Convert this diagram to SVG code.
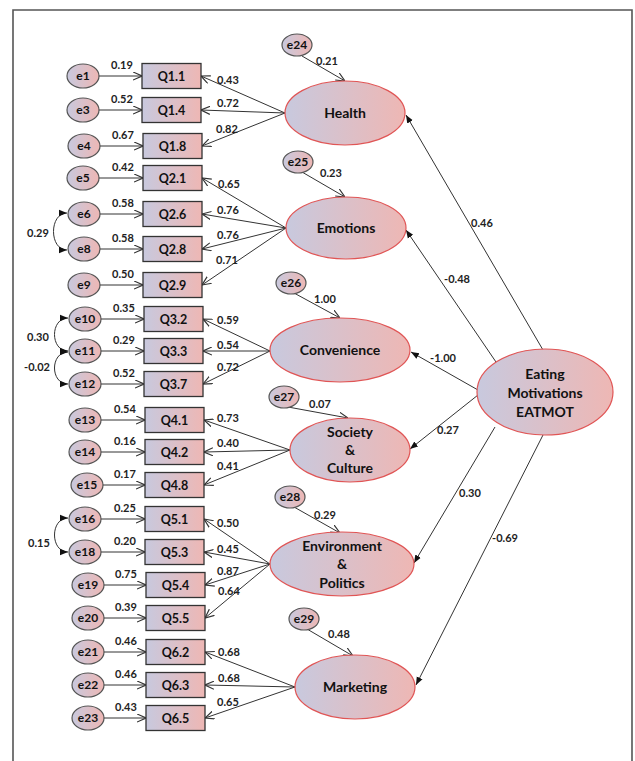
<svg xmlns="http://www.w3.org/2000/svg" width="635" height="761" viewBox="0 0 635 761">
<defs>
<linearGradient id="g" x1="0" y1="0" x2="1" y2="0">
<stop offset="0" stop-color="#c8c9de"/>
<stop offset="1" stop-color="#eeb7b4"/>
</linearGradient>
<marker id="open" viewBox="0 0 10 10" refX="10" refY="5" markerWidth="9" markerHeight="9" markerUnits="userSpaceOnUse" orient="auto"><path d="M0,0.5 L10,5 L0,9.5" fill="none" stroke="#333" stroke-width="1.3"/></marker>
<marker id="fill" viewBox="0 0 10 10" refX="10" refY="5" markerWidth="8" markerHeight="8" markerUnits="userSpaceOnUse" orient="auto-start-reverse"><path d="M0,1 L10,5 L0,9 Z" fill="#111"/></marker>
<style>
.err{fill:url(#g);stroke:#555;stroke-width:1.2}
.box{fill:url(#g);stroke:#333;stroke-width:1.3}
.lat{fill:url(#g);stroke:#e05555;stroke-width:1.2}
.t{font-family:Lato,"Liberation Sans",sans-serif;font-weight:bold;fill:#111;text-anchor:middle}
.te{font-size:12px}
.tb{font-size:12.5px}
.tl{font-size:14px}
.n{font-family:Lato,"Liberation Sans",sans-serif;font-weight:bold;font-size:11px;fill:#222;text-anchor:middle}
.a{stroke:#333;stroke-width:1;fill:none;marker-end:url(#open)}
.s{stroke:#333;stroke-width:1;fill:none;marker-end:url(#fill)}
.c{stroke:#333;stroke-width:1;fill:none;marker-start:url(#fill);marker-end:url(#fill)}
</style>
</defs>
<rect x="0" y="0" width="635" height="761" fill="#fff"/>
<path d="M13,770 L13,10 L632,10 L632,770" fill="none" stroke="#555" stroke-width="1.6"/>

<g id="connectors">
<!-- error to indicator -->
<path class="a" d="M99,76 L142,76"/>
<path class="a" d="M99,110 L142,110"/>
<path class="a" d="M100,146 L143,146"/>
<path class="a" d="M99,178 L143,178"/>
<path class="a" d="M100,214 L143,214"/>
<path class="a" d="M100,249 L143,249"/>
<path class="a" d="M100,285 L143,285"/>
<path class="a" d="M101,319 L144,319"/>
<path class="a" d="M101,351 L144,351"/>
<path class="a" d="M101,384 L144,384"/>
<path class="a" d="M101,420 L145,420"/>
<path class="a" d="M101,452 L145,452"/>
<path class="a" d="M103,485 L145,485"/>
<path class="a" d="M101,519 L145,519"/>
<path class="a" d="M101,552 L145,552"/>
<path class="a" d="M104,585 L146,585"/>
<path class="a" d="M104,618 L146,618"/>
<path class="a" d="M104,652 L146,652"/>
<path class="a" d="M104,685 L146,685"/>
<path class="a" d="M104,718 L146,718"/>
<!-- loadings -->
<path class="a" d="M285,113 L201,76"/>
<path class="a" d="M285,113 L201,110"/>
<path class="a" d="M285,113 L202,146"/>
<path class="a" d="M286,228 L202,178"/>
<path class="a" d="M286,228 L202,214"/>
<path class="a" d="M286,228 L202,249"/>
<path class="a" d="M286,228 L202,285"/>
<path class="a" d="M270,351 L203,319"/>
<path class="a" d="M270,351 L203,351"/>
<path class="a" d="M270,351 L203,384"/>
<path class="a" d="M290,450 L204,420"/>
<path class="a" d="M290,450 L204,452"/>
<path class="a" d="M290,450 L204,485"/>
<path class="a" d="M270,564 L204,519"/>
<path class="a" d="M270,564 L204,552"/>
<path class="a" d="M270,564 L205,585"/>
<path class="a" d="M270,564 L205,618"/>
<path class="a" d="M295,687 L205,652"/>
<path class="a" d="M295,687 L205,685"/>
<path class="a" d="M295,687 L205,718"/>
<!-- disturbances -->
<path class="a" d="M302,56 L345,81"/>
<path class="a" d="M302,172 L345,197"/>
<path class="a" d="M294,293 L340,318"/>
<path class="a" d="M288,407 L348,418"/>
<path class="a" d="M294,507 L340,533"/>
<path class="a" d="M307,629 L353,656"/>
<!-- structural -->
<path class="s" d="M543,350 L406,115"/>
<path class="s" d="M496,362 L406,230"/>
<path class="s" d="M478,390 L411,352"/>
<path class="s" d="M478,395 L410,449"/>
<path class="s" d="M495,427 L414,563"/>
<path class="s" d="M543,435 L416,685"/>
<!-- covariances -->
<path class="c" d="M67,213 C49,213 49,250 67,250"/>
<path class="c" d="M68,318 C50,318 50,351 68,351"/>
<path class="c" d="M68,352 C50,352 50,384 68,384"/>
<path class="c" d="M68,518 C50,518 50,552 68,552"/>
</g>

<g id="labels">
<text class="n" x="122" y="69">0.19</text>
<text class="n" x="122" y="103">0.52</text>
<text class="n" x="123" y="139">0.67</text>
<text class="n" x="123" y="171">0.42</text>
<text class="n" x="123" y="207">0.58</text>
<text class="n" x="123" y="242">0.58</text>
<text class="n" x="123" y="278">0.50</text>
<text class="n" x="124" y="312">0.35</text>
<text class="n" x="124" y="344">0.29</text>
<text class="n" x="124" y="377">0.52</text>
<text class="n" x="125" y="413">0.54</text>
<text class="n" x="125" y="445">0.16</text>
<text class="n" x="125" y="478">0.17</text>
<text class="n" x="125" y="512">0.25</text>
<text class="n" x="125" y="545">0.20</text>
<text class="n" x="126" y="578">0.75</text>
<text class="n" x="126" y="611">0.39</text>
<text class="n" x="126" y="645">0.46</text>
<text class="n" x="126" y="678">0.46</text>
<text class="n" x="126" y="711">0.43</text>

<text class="n" x="228" y="84">0.43</text>
<text class="n" x="228" y="107">0.72</text>
<text class="n" x="227" y="133">0.82</text>
<text class="n" x="229" y="188">0.65</text>
<text class="n" x="228" y="214">0.76</text>
<text class="n" x="228" y="239">0.76</text>
<text class="n" x="227" y="264">0.71</text>
<text class="n" x="228" y="324">0.59</text>
<text class="n" x="228" y="349">0.54</text>
<text class="n" x="228" y="371">0.72</text>
<text class="n" x="228" y="422">0.73</text>
<text class="n" x="228" y="447">0.40</text>
<text class="n" x="228" y="470">0.41</text>
<text class="n" x="228" y="527">0.50</text>
<text class="n" x="228" y="553">0.45</text>
<text class="n" x="228" y="575">0.87</text>
<text class="n" x="229" y="595">0.64</text>
<text class="n" x="229" y="656">0.68</text>
<text class="n" x="229" y="682">0.68</text>
<text class="n" x="228" y="706">0.65</text>

<text class="n" x="327" y="65">0.21</text>
<text class="n" x="331" y="177">0.23</text>
<text class="n" x="325" y="303">1.00</text>
<text class="n" x="320" y="408">0.07</text>
<text class="n" x="325" y="519">0.29</text>
<text class="n" x="339" y="638">0.48</text>

<text class="n" x="482" y="227">0.46</text>
<text class="n" x="457" y="283">-0.48</text>
<text class="n" x="443" y="362">-1.00</text>
<text class="n" x="448" y="434">0.27</text>
<text class="n" x="470" y="497">0.30</text>
<text class="n" x="505" y="542">-0.69</text>

<text class="n" x="38" y="237">0.29</text>
<text class="n" x="38" y="341">0.30</text>
<text class="n" x="37" y="371">-0.02</text>
<text class="n" x="39" y="547">0.15</text>
</g>

<g id="e1"><ellipse class="err" cx="83" cy="76" rx="16" ry="12"/><text class="t te" x="83" y="80">e1</text></g>
<g id="e3"><ellipse class="err" cx="83" cy="110" rx="16" ry="12"/><text class="t te" x="83" y="114">e3</text></g>
<g id="e4"><ellipse class="err" cx="84" cy="146" rx="16" ry="12"/><text class="t te" x="84" y="150">e4</text></g>
<g id="e5"><ellipse class="err" cx="83" cy="178" rx="16" ry="12"/><text class="t te" x="83" y="182">e5</text></g>
<g id="e6"><ellipse class="err" cx="84" cy="214" rx="16" ry="12"/><text class="t te" x="84" y="218">e6</text></g>
<g id="e8"><ellipse class="err" cx="84" cy="249" rx="16" ry="12"/><text class="t te" x="84" y="253">e8</text></g>
<g id="e9"><ellipse class="err" cx="84" cy="285" rx="16" ry="12"/><text class="t te" x="84" y="289">e9</text></g>
<g id="e10"><ellipse class="err" cx="85" cy="319" rx="16" ry="12"/><text class="t te" x="85" y="323">e10</text></g>
<g id="e11"><ellipse class="err" cx="85" cy="351" rx="16" ry="12"/><text class="t te" x="85" y="355">e11</text></g>
<g id="e12"><ellipse class="err" cx="85" cy="384" rx="16" ry="12"/><text class="t te" x="85" y="388">e12</text></g>
<g id="e13"><ellipse class="err" cx="85" cy="420" rx="16" ry="12"/><text class="t te" x="85" y="424">e13</text></g>
<g id="e14"><ellipse class="err" cx="85" cy="452" rx="16" ry="12"/><text class="t te" x="85" y="456">e14</text></g>
<g id="e15"><ellipse class="err" cx="87" cy="485" rx="16" ry="12"/><text class="t te" x="87" y="489">e15</text></g>
<g id="e16"><ellipse class="err" cx="85" cy="519" rx="16" ry="12"/><text class="t te" x="85" y="523">e16</text></g>
<g id="e18"><ellipse class="err" cx="85" cy="552" rx="16" ry="12"/><text class="t te" x="85" y="556">e18</text></g>
<g id="e19"><ellipse class="err" cx="88" cy="585" rx="16" ry="12"/><text class="t te" x="88" y="589">e19</text></g>
<g id="e20"><ellipse class="err" cx="88" cy="618" rx="16" ry="12"/><text class="t te" x="88" y="622">e20</text></g>
<g id="e21"><ellipse class="err" cx="88" cy="652" rx="16" ry="12"/><text class="t te" x="88" y="656">e21</text></g>
<g id="e22"><ellipse class="err" cx="88" cy="685" rx="16" ry="12"/><text class="t te" x="88" y="689">e22</text></g>
<g id="e23"><ellipse class="err" cx="88" cy="718" rx="16" ry="12"/><text class="t te" x="88" y="722">e23</text></g>

<g id="e24"><ellipse class="err" cx="297" cy="45" rx="15" ry="11"/><text class="t te" x="297" y="49">e24</text></g>
<g id="e25"><ellipse class="err" cx="298" cy="162" rx="15" ry="11"/><text class="t te" x="298" y="166">e25</text></g>
<g id="e26"><ellipse class="err" cx="291" cy="283" rx="15" ry="11"/><text class="t te" x="291" y="287">e26</text></g>
<g id="e27"><ellipse class="err" cx="284" cy="397" rx="15" ry="11"/><text class="t te" x="284" y="401">e27</text></g>
<g id="e28"><ellipse class="err" cx="290" cy="497" rx="15" ry="11"/><text class="t te" x="290" y="501">e28</text></g>
<g id="e29"><ellipse class="err" cx="304" cy="619" rx="15" ry="11"/><text class="t te" x="304" y="623">e29</text></g>

<g id="Q1.1"><rect class="box" x="142" y="63.5" width="59" height="25"/><text class="t tb" x="171.5" y="80.5">Q1.1</text></g>
<g id="Q1.4"><rect class="box" x="142" y="97.5" width="59" height="25"/><text class="t tb" x="171.5" y="114.5">Q1.4</text></g>
<g id="Q1.8"><rect class="box" x="143" y="133.5" width="59" height="25"/><text class="t tb" x="172.5" y="150.5">Q1.8</text></g>
<g id="Q2.1"><rect class="box" x="143" y="165.5" width="59" height="25"/><text class="t tb" x="172.5" y="182.5">Q2.1</text></g>
<g id="Q2.6"><rect class="box" x="143" y="201.5" width="59" height="25"/><text class="t tb" x="172.5" y="218.5">Q2.6</text></g>
<g id="Q2.8"><rect class="box" x="143" y="236.5" width="59" height="25"/><text class="t tb" x="172.5" y="253.5">Q2.8</text></g>
<g id="Q2.9"><rect class="box" x="143" y="272.5" width="59" height="25"/><text class="t tb" x="172.5" y="289.5">Q2.9</text></g>
<g id="Q3.2"><rect class="box" x="144" y="306.5" width="59" height="25"/><text class="t tb" x="173.5" y="323.5">Q3.2</text></g>
<g id="Q3.3"><rect class="box" x="144" y="338.5" width="59" height="25"/><text class="t tb" x="173.5" y="355.5">Q3.3</text></g>
<g id="Q3.7"><rect class="box" x="144" y="371.5" width="59" height="25"/><text class="t tb" x="173.5" y="388.5">Q3.7</text></g>
<g id="Q4.1"><rect class="box" x="145" y="407.5" width="59" height="25"/><text class="t tb" x="174.5" y="424.5">Q4.1</text></g>
<g id="Q4.2"><rect class="box" x="145" y="439.5" width="59" height="25"/><text class="t tb" x="174.5" y="456.5">Q4.2</text></g>
<g id="Q4.8"><rect class="box" x="145" y="472.5" width="59" height="25"/><text class="t tb" x="174.5" y="489.5">Q4.8</text></g>
<g id="Q5.1"><rect class="box" x="145" y="506.5" width="59" height="25"/><text class="t tb" x="174.5" y="523.5">Q5.1</text></g>
<g id="Q5.3"><rect class="box" x="145" y="539.5" width="59" height="25"/><text class="t tb" x="174.5" y="556.5">Q5.3</text></g>
<g id="Q5.4"><rect class="box" x="146" y="572.5" width="59" height="25"/><text class="t tb" x="175.5" y="589.5">Q5.4</text></g>
<g id="Q5.5"><rect class="box" x="146" y="605.5" width="59" height="25"/><text class="t tb" x="175.5" y="622.5">Q5.5</text></g>
<g id="Q6.2"><rect class="box" x="146" y="639.5" width="59" height="25"/><text class="t tb" x="175.5" y="656.5">Q6.2</text></g>
<g id="Q6.3"><rect class="box" x="146" y="672.5" width="59" height="25"/><text class="t tb" x="175.5" y="689.5">Q6.3</text></g>
<g id="Q6.5"><rect class="box" x="146" y="705.5" width="59" height="25"/><text class="t tb" x="175.5" y="722.5">Q6.5</text></g>

<g id="Health"><ellipse class="lat" cx="345" cy="113" rx="60" ry="32"/><text class="t tl" x="345" y="118">Health</text></g>
<g id="Emotions"><ellipse class="lat" cx="346" cy="228" rx="60" ry="31"/><text class="t tl" x="346" y="233">Emotions</text></g>
<g id="Convenience"><ellipse class="lat" cx="340" cy="350" rx="70" ry="32"/><text class="t tl" x="340" y="355">Convenience</text></g>
<g id="SocietyCulture"><ellipse class="lat" cx="350" cy="450" rx="60" ry="32"/><text class="t tl" x="350" y="437">Society</text><text class="t tl" x="350" y="455">&amp;</text><text class="t tl" x="350" y="473">Culture</text></g>
<g id="EnvironmentPolitics"><ellipse class="lat" cx="342" cy="564" rx="72" ry="32"/><text class="t tl" x="342" y="551">Environment</text><text class="t tl" x="342" y="569">&amp;</text><text class="t tl" x="342" y="588">Politics</text></g>
<g id="Marketing"><ellipse class="lat" cx="355" cy="687" rx="60" ry="32"/><text class="t tl" x="355" y="692">Marketing</text></g>
<g id="EATMOT"><ellipse class="lat" cx="545" cy="392" rx="68" ry="43"/><text class="t tl" x="545" y="379">Eating</text><text class="t tl" x="545" y="398">Motivations</text><text class="t tl" x="545" y="417">EATMOT</text></g>
</svg>
